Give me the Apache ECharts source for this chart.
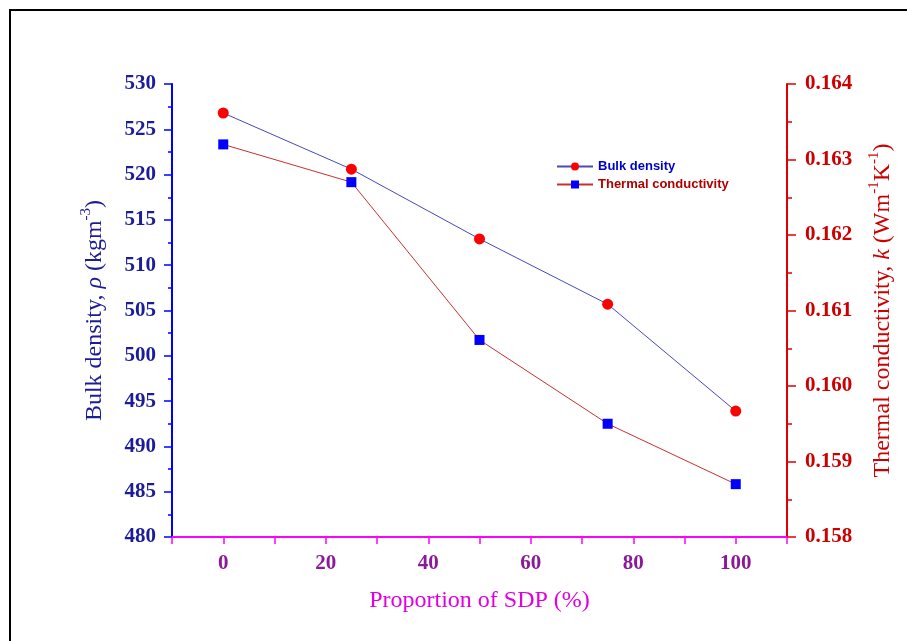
<!DOCTYPE html>
<html>
<head>
<meta charset="utf-8">
<script src="https://cdn.jsdelivr.net/npm/echarts@6/dist/echarts.min.js"></script>
<style>
html,body{margin:0;padding:0;background:#fff;}
#chart{width:907px;height:641px;}
</style>
</head>
<body>
<div id="chart"></div>
<script>
// Data
const sdpProportion = [0, 25, 50, 75, 100];
const bulkDensity = [526.8, 520.6, 512.9, 505.7, 493.9];
const thermalConductivity = [0.16320, 0.16270, 0.16061, 0.15950, 0.15870];
const seriesNames = ['Bulk density', 'Thermal conductivity'];
const xTickLabels = [0, 20, 40, 60, 80, 100];

const serif = '"Liberation Serif", "Times New Roman", serif';
const sans = '"Liberation Sans", Arial, sans-serif';

const chart = echarts.init(document.getElementById('chart'));
chart.setOption({
  backgroundColor: '#ffffff',
  animation: false,
  graphic: [{
    type: 'rect',
    shape: { x: 10, y: 10, width: 1000, height: 1000 },
    style: { fill: 'none', stroke: '#000', lineWidth: 2 },
    silent: true
  }],
  grid: { left: 172, right: 120, top: 84, bottom: 104 },
  legend: {
    orient: 'vertical',
    left: 556,
    top: 160,
    padding: 0,
    itemWidth: 36,
    itemHeight: 10,
    itemGap: 5,
    data: [
      { name: seriesNames[0], textStyle: { color: '#0000cc' } },
      { name: seriesNames[1], textStyle: { color: '#b00000' } }
    ],
    textStyle: { fontFamily: sans, fontWeight: 'bold', fontSize: 13 }
  },
  xAxis: {
    type: 'value',
    min: -10, max: 110, interval: 10,
    name: 'Proportion of SDP (%)',
    nameLocation: 'middle',
    nameGap: 52,
    nameTextStyle: { fontFamily: serif, fontSize: 24, color: '#e000e0', textShadowColor: '#7a2a9a', textShadowOffsetX: 1, textShadowOffsetY: 1, textShadowBlur: 0 },
    axisLine: { show: true, onZero: false, lineStyle: { color: '#ff00ff', width: 2 } },
    axisTick: { show: true, inside: false, length: 7, lineStyle: { color: '#ff00ff', width: 1.5 } },
    axisLabel: {
      margin: 16,
      fontFamily: serif, fontSize: 21, fontWeight: 'bold', color: '#8a1a9a',
      formatter: function (v) { return xTickLabels.indexOf(v) >= 0 ? String(v) : ''; }
    },
    splitLine: { show: false }
  },
  yAxis: [{
    type: 'value',
    position: 'left',
    min: 480, max: 530, interval: 5,
    name: '{a|Bulk density, }{i|ρ}{a| (kgm}{s|-3}{a|)}',
    nameLocation: 'middle',
    nameGap: 65,
    nameRotate: 90,
    nameTextStyle: {
      color: '#1c1c99',
      rich: {
        a: { fontFamily: serif, fontSize: 24, color: '#1c1c99', lineHeight: 28, verticalAlign: 'bottom' },
        i: { fontFamily: serif, fontSize: 24, fontStyle: 'italic', color: '#1c1c99', lineHeight: 28, verticalAlign: 'bottom' },
        s: { fontFamily: serif, fontSize: 15, color: '#1c1c99', lineHeight: 28, verticalAlign: 'top' }
      }
    },
    axisLine: { show: true, onZero: false, lineStyle: { color: '#0000ff', width: 2 } },
    axisTick: { show: true, inside: false, length: 8, lineStyle: { color: '#0000ff', width: 1.5 } },
    minorTick: { show: true, splitNumber: 2, length: 4, lineStyle: { color: '#0000ff', width: 1.5 } },
    axisLabel: { margin: 16, fontFamily: serif, fontSize: 21, fontWeight: 'bold', color: '#1c1c99' },
    splitLine: { show: false }
  }, {
    type: 'value',
    position: 'right',
    min: 0.158, max: 0.164, interval: 0.001,
    name: '{a|Thermal conductivity, }{i|k}{a| (Wm}{s|-1}{a|K}{s|-1}{a|)}',
    nameLocation: 'middle',
    nameGap: 80,
    nameRotate: 90,
    nameTextStyle: {
      color: '#cc0000',
      rich: {
        a: { fontFamily: serif, fontSize: 24, color: '#cc0000', lineHeight: 28, verticalAlign: 'bottom' },
        i: { fontFamily: serif, fontSize: 24, fontStyle: 'italic', color: '#cc0000', lineHeight: 28, verticalAlign: 'bottom' },
        s: { fontFamily: serif, fontSize: 15, color: '#cc0000', lineHeight: 28, verticalAlign: 'top' }
      }
    },
    axisLine: { show: true, onZero: false, lineStyle: { color: '#e00000', width: 2 } },
    axisTick: { show: true, inside: false, length: 9, lineStyle: { color: '#e00000', width: 1.5 } },
    minorTick: { show: true, splitNumber: 2, length: 5, lineStyle: { color: '#e00000', width: 1.5 } },
    axisLabel: {
      margin: 18, fontFamily: serif, fontSize: 21, fontWeight: 'bold', color: '#cc0000',
      formatter: function (v) { return v.toFixed(3); }
    },
    splitLine: { show: false }
  }],
  series: [{
    name: seriesNames[0],
    type: 'line',
    yAxisIndex: 0,
    data: sdpProportion.map((x, i) => [x, bulkDensity[i]]),
    symbol: 'circle',
    symbolSize: 11,
    itemStyle: { color: '#ff0000' },
    lineStyle: { color: '#4848c0', width: 1 },
    z: 3
  }, {
    name: seriesNames[1],
    type: 'line',
    yAxisIndex: 1,
    data: sdpProportion.map((x, i) => [x, thermalConductivity[i]]),
    symbol: 'rect',
    symbolSize: 10,
    itemStyle: { color: '#0000ff' },
    lineStyle: { color: '#c83030', width: 1 },
    z: 3
  }]
});
</script>
</body>
</html>
